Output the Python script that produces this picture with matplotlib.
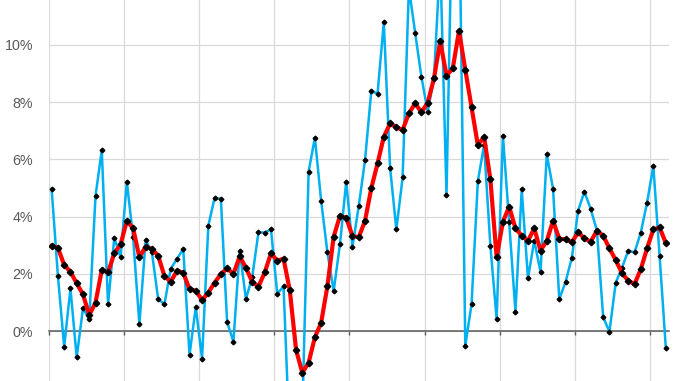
import numpy as np
import matplotlib
matplotlib.use('Agg')
import matplotlib.pyplot as plt

# quarterly / period values (%), blue = raw series, red = smoothed series
blue_values = [4.97, 1.93, -0.55, 1.49, -0.92, 0.79, 0.42, 4.72, 6.32, 0.94,
               3.26, 2.58, 5.22, 3.27, 0.24, 3.18, 2.75, 1.11, 0.94, 2.18,
               2.52, 2.87, -0.83, 0.83, -0.97, 3.68, 4.65, 4.62, 0.31, -0.37,
               2.81, 1.12, 1.88, 3.45, 3.44, 3.55, 1.29, 1.57, -4.0, -4.5,
               -2.85, 5.57, 6.76, 4.55, 2.75, 1.40, 3.03, 5.22, 2.95, 4.37,
               5.97, 8.39, 8.30, 10.80, 5.71, 3.55, 5.37, 12.0, 10.43, 8.88,
               7.67, 8.83, 13.0, 4.76, 16.0, 15.5, -0.51, 0.94, 5.24, 6.5,
               2.98, 0.42, 6.83, 3.8, 0.68, 4.95, 1.84, 3.16, 2.07, 6.18,
               4.97, 1.11, 1.72, 2.56, 4.21, 4.87, 4.27, 3.51, 0.48, -0.02,
               1.69, 2.21, 2.81, 2.75, 3.44, 4.49, 5.77, 2.63, -0.61]
red_values = [2.97, 2.91, 2.31, 2.07, 1.67, 1.28, 0.56, 0.99, 2.13, 2.05,
              2.72, 3.03, 3.85, 3.59, 2.58, 2.95, 2.87, 2.63, 1.92, 1.72,
              2.11, 2.04, 1.46, 1.41, 1.08, 1.34, 1.69, 1.99, 2.19, 1.99,
              2.61, 2.21, 1.72, 1.55, 2.05, 2.72, 2.46, 2.53, 1.42, -0.66,
              -1.46, -1.11, -0.22, 0.29, 1.57, 3.30, 4.02, 3.96, 3.32, 3.28,
              3.85, 4.99, 5.86, 6.79, 7.26, 7.12, 7.03, 7.61, 7.96, 7.65,
              7.98, 8.83, 10.14, 8.93, 9.18, 10.50, 9.13, 7.82, 6.50, 6.79,
              5.30, 2.58, 3.82, 4.35, 3.59, 3.33, 3.15, 3.59, 2.81, 3.15,
              3.85, 3.22, 3.21, 3.10, 3.45, 3.24, 3.12, 3.51, 3.33, 2.89,
              2.48, 2.02, 1.76, 1.64, 2.16, 2.89, 3.55, 3.62, 3.07]
y_ticks = [0, 2, 4, 6, 8, 10]

n = len(blue_values)
x = np.arange(n) + 0.5

plt.rcParams['font.family'] = ['Liberation Sans', 'DejaVu Sans']
fig = plt.figure(figsize=(6.78, 3.81), dpi=100)
ax = fig.add_axes([48.5 / 678, 0, 620.5 / 678, 1])

ax.plot(x, blue_values, color='#00B0F0', lw=1.8, marker='D', markersize=2.4,
        markerfacecolor='black', markeredgecolor='black', zorder=3)
ax.plot(x, red_values, color='#FF0000', lw=3.0, marker='D', markersize=3.3,
        markerfacecolor='black', markeredgecolor='black', zorder=4)

ax.set_xlim(0, n)
ax.set_ylim(-1.748, 11.573)
ax.set_xticks(np.arange(0, n, 12))
ax.set_xticklabels([])
ax.set_yticks(y_ticks)
ax.set_yticklabels(['{}%'.format(v) for v in y_ticks], fontsize=10.3, color='#595959')
ax.tick_params(axis='y', length=0, pad=11)
ax.tick_params(axis='x', direction='out', length=3, width=1, color='#595959')
ax.grid(True, color='#D9D9D9', lw=0.9, zorder=0)
ax.set_axisbelow(True)

for s in ['top', 'right', 'left']:
    ax.spines[s].set_visible(False)
ax.spines['bottom'].set_position(('data', 0))
ax.spines['bottom'].set_color('#595959')
ax.spines['bottom'].set_linewidth(1.1)
ax.spines['bottom'].set_zorder(2)

fig.savefig('out.png', dpi=100)
